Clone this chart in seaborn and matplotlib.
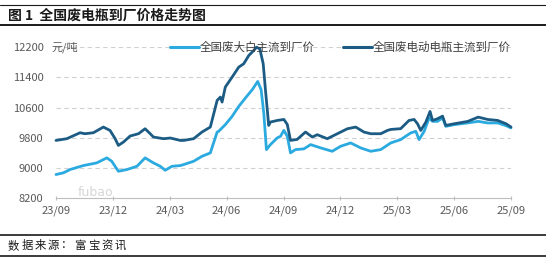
import numpy as np
import pandas as pd
import matplotlib
matplotlib.use("Agg")
import matplotlib.pyplot as plt
import seaborn as sns

# months since 2023-09
dark_x = [0.0, 0.57, 1.27, 1.53, 1.97, 2.50, 2.85, 3.12, 3.29, 3.56, 3.91, 4.35, 4.70, 4.97,
          5.14, 5.67, 6.03, 6.56, 6.73, 7.26, 7.70, 8.14, 8.50, 8.67, 8.76, 8.93, 9.29, 9.64,
          9.90, 10.17, 10.43, 10.57, 10.75, 10.93, 11.05, 11.22, 11.31, 11.67, 12.02, 12.20,
          12.37, 12.72, 13.16, 13.52, 13.78, 14.31, 14.84, 15.37, 15.81, 16.24, 16.60, 17.13,
          17.48, 17.66, 18.18, 18.62, 18.89, 19.07, 19.24, 19.51, 19.73, 19.86, 20.12, 20.39,
          20.56, 21.00, 21.71, 22.27, 22.77, 23.30, 23.74, 24.0]
dark_y = [9728, 9774, 9932, 9906, 9932, 10083, 9993, 9774, 9596, 9686, 9845, 9906, 10038, 9906,
          9818, 9774, 9792, 9728, 9728, 9774, 9951, 10083, 10790, 10879, 10746, 11144, 11409, 11674,
          11762, 11983, 12115, 12203, 12159, 11762, 11056, 10126, 10216, 10258, 10285, 10152,
          9728, 9755, 9951, 9818, 9880, 9774, 9906, 10038, 10083, 9951, 9906, 9906,
          9993, 10020, 10040, 10258, 10285, 10170, 9993, 10216, 10497, 10258, 10303, 10373,
          10126, 10170, 10232, 10347, 10285, 10258, 10170, 10083]

light_x = [0.0, 0.39, 0.74, 1.44, 2.15, 2.68, 2.94, 3.29, 3.74, 4.27, 4.70, 5.14, 5.50, 5.76,
           6.12, 6.56, 6.73, 7.26, 7.70, 8.14, 8.50, 8.58, 8.93, 9.29, 9.64, 9.99, 10.35, 10.64,
           10.82, 10.96, 11.10, 11.31, 11.67, 11.84, 12.02, 12.20, 12.37, 12.63, 13.07, 13.43,
           13.96, 14.57, 15.01, 15.54, 16.07, 16.60, 17.13, 17.66, 18.18, 18.71, 18.98, 19.15,
           19.42, 19.68, 19.86, 20.12, 20.39, 20.56, 21.00, 21.71, 22.27, 22.77, 23.30, 23.74, 24.0]
light_y = [8823, 8868, 8955, 9061, 9132, 9265, 9175, 8910, 8955, 9042, 9265, 9132, 9042, 8936,
           9042, 9061, 9087, 9175, 9307, 9397, 9951, 9970, 10147, 10367, 10632, 10854, 11074, 11294,
           11074, 10457, 9485, 9617, 9795, 9837, 9996, 9837, 9397, 9485, 9503, 9617,
           9530, 9440, 9572, 9662, 9530, 9440, 9485, 9662, 9750, 9927, 9970, 9750,
           9970, 10325, 10234, 10234, 10325, 10102, 10147, 10192, 10234, 10192, 10192, 10120, 10060]

series_names = ["全国废大白主流到厂价", "全国废电动电瓶主流到厂价"]
tick_pos = [0, 3, 6, 9, 12, 15, 18, 21, 24]
tick_labels = ["23/09", "23/12", "24/03", "24/06", "24/09", "24/12", "25/03", "25/06", "25/09"]
y_ticks = [8200, 9000, 9800, 10600, 11400, 12200]
title_text = "图 1  全国废电瓶到厂价格走势图"
source_text = "数据来源：富宝资讯"

df = pd.concat([
    pd.DataFrame({"x": light_x, "y": light_y, "s": series_names[0]}),
    pd.DataFrame({"x": dark_x, "y": dark_y, "s": series_names[1]}),
])

sns.set_theme(style="white")
plt.rcParams["font.family"] = ["Noto Sans CJK SC", "DejaVu Sans"]

W, H = 546, 268
fig = plt.figure(figsize=(W / 100, H / 100), dpi=100)
ax = fig.add_axes([56 / W, 1 - 198 / H, (511 - 56) / W, (198 - 47.3) / H])

palette = {series_names[0]: "#2BAAE0", series_names[1]: "#1C5C84"}
sns.lineplot(data=df, x="x", y="y", hue="s", palette=palette, linewidth=2.0,
             ax=ax, legend=False, sort=False, estimator=None)
for ln in ax.get_lines():
    ln.set_clip_on(False)
    ln.set_solid_joinstyle("round")

ax.set_xlim(0, 24)
ax.set_ylim(8200, 12200)
ax.set_xticks(tick_pos)
ax.set_xticklabels(tick_labels)
ax.set_yticks(y_ticks)
ax.set_yticklabels([str(v) for v in y_ticks])
ax.set_xlabel("")
ax.set_ylabel("")

for v in y_ticks[1:]:
    ax.axhline(v, color="#d0d0d0", lw=0.8, ls=(0, (4, 3)), zorder=0)

for sp in ["top", "right", "left"]:
    ax.spines[sp].set_visible(False)
ax.spines["bottom"].set_color("#bfbfbf")
ax.spines["bottom"].set_linewidth(0.8)
ax.tick_params(axis="x", length=3, width=0.8, color="#bfbfbf", direction="inout",
               labelsize=8, labelcolor="#595959", pad=4, bottom=True)
ax.tick_params(axis="y", length=0, labelsize=8, labelcolor="#595959", pad=9)

ax.text(51 / W, 1 - 47.3 / H, "元/吨", transform=fig.transFigure, ha="left", va="center",
        fontsize=8, color="#595959")

# legend
lx = [170, 343]
for i, name in enumerate(series_names):
    x0 = lx[i]
    fig.add_artist(plt.Line2D([x0 / W, (x0 + 29) / W], [1 - 47 / H] * 2,
                              color=palette[name], lw=2.2, transform=fig.transFigure))
    fig.text((x0 + 30) / W, 1 - 47 / H, name, ha="left", va="center", fontsize=8.3,
             color="#404040")

# watermark
fig.text(78 / W, 1 - 192 / H, "fubao", ha="left", va="center", fontsize=9,
         color="#d6d6d6", family=["DejaVu Sans"])

# title / footer rules
for y, lw in [(5, 0.8), (25, 1.4), (235, 1.2), (256, 1.2)]:
    fig.add_artist(plt.Line2D([0, 1], [1 - y / H] * 2, color="#1a1a1a", lw=lw,
                              transform=fig.transFigure))
fig.text(8 / W, 1 - 15.5 / H, title_text, ha="left", va="center",
         fontsize=10, fontweight="bold", color="#1a1a1a")
# letter-spaced source line
for i, ch in enumerate(source_text):
    fig.text((8 + i * 13.3) / W, 1 - 245.5 / H, ch, ha="left", va="center",
             fontsize=8.2, color="#1a1a1a")

fig.savefig("out.png", dpi=100, facecolor="white")
